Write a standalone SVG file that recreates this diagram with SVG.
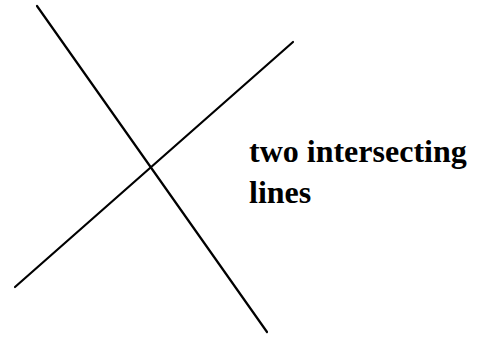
<svg xmlns="http://www.w3.org/2000/svg" width="477" height="337" viewBox="0 0 477 337">
<style>
.ln{stroke:#000;stroke-width:2.2;stroke-linecap:round;fill:none}
.lbl{font-family:"Liberation Serif","Times New Roman",serif;font-weight:bold;font-size:32px;fill:#000}
</style>
<rect width="477" height="337" fill="#fff"/>
<g id="connectors">
<line class="ln" x1="37" y1="6" x2="267" y2="332"/>
<line class="ln" x1="15" y1="287" x2="293" y2="42"/>
</g>
<g id="label">
<text class="lbl" x="249" y="162">two intersecting</text>
<text class="lbl" x="249" y="203">lines</text>
</g>
</svg>
